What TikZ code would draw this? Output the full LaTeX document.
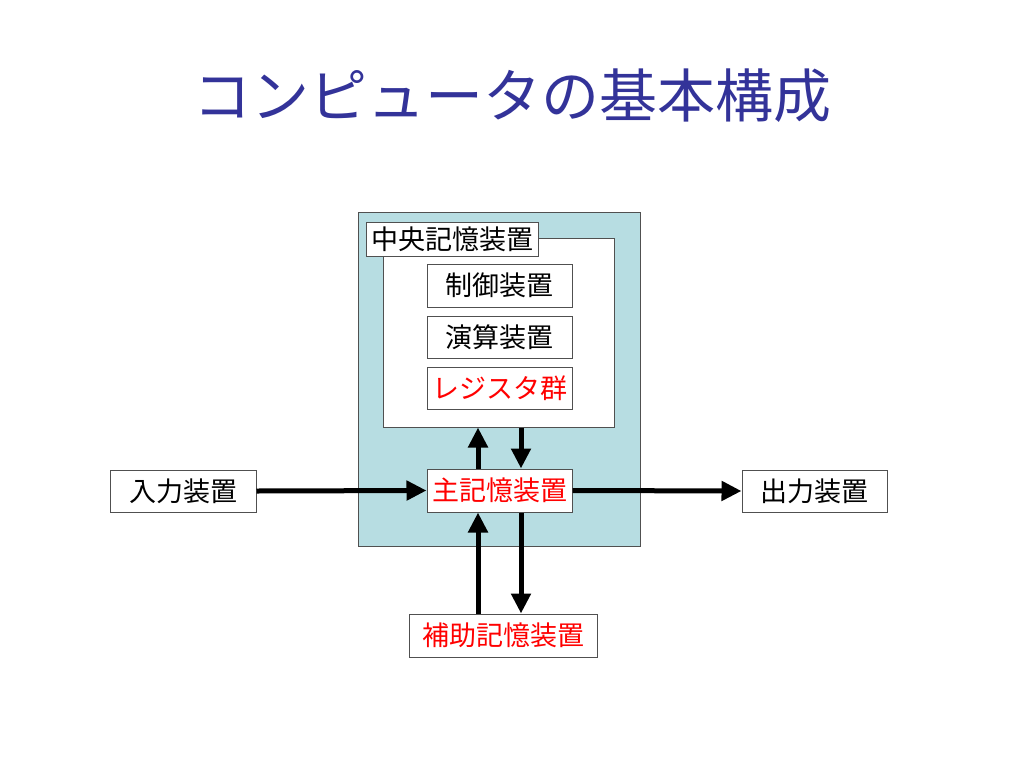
\documentclass[tikz,border=0pt]{standalone}
\usepackage{fontspec}
\newfontfamily\jp{Noto Sans CJK JP}
\usetikzlibrary{arrows.meta}
\definecolor{titleblue}{RGB}{51,51,153}
\definecolor{cpufill}{RGB}{183,221,226}
\definecolor{boxline}{RGB}{80,80,80}
\begin{document}
\begin{tikzpicture}[x=1pt,y=-1pt,
  lbl/.style={draw=boxline,line width=1pt,fill=white,inner sep=0pt,font=\jp\fontsize{27}{30}\selectfont},
  flow/.style={line width=5pt,-{Triangle[length=20pt,width=19pt]}},
  redtext/.style={text=red}]
\useasboundingbox (0,0) rectangle (1024,768);
\node[font=\jp\fontsize{58}{64}\selectfont,text=titleblue] (title) at (512,96) {コンピュータの基本構成};
% CPU area
\node[draw=boxline,line width=1pt,fill=cpufill,minimum width=282pt,minimum height=334pt,inner sep=0pt] (cpu) at (499,379) {};
\node[draw=boxline,line width=1pt,fill=white,minimum width=231pt,minimum height=189pt,inner sep=0pt] (core) at (498.5,332.5) {};
\node[lbl,minimum width=172pt,minimum height=34pt] (central) at (452,239) {中央記憶装置};
\node[lbl,minimum width=145pt,minimum height=43pt] (ctrl) at (499.5,285.5) {制御装置};
\node[lbl,minimum width=145pt,minimum height=42pt] (alu) at (499.5,337) {演算装置};
\node[lbl,redtext,minimum width=145pt,minimum height=42pt] (reg) at (499.5,388) {レジスタ群};
\node[lbl,redtext,minimum width=145pt,minimum height=43pt] (mem) at (499.5,490.5) {主記憶装置};
\node[lbl,minimum width=146pt,minimum height=42pt] (in) at (183,491) {入力装置};
\node[lbl,minimum width=145pt,minimum height=42pt] (out) at (814.5,491) {出力装置};
\node[lbl,redtext,minimum width=188pt,minimum height=43pt] (aux) at (503,635.5) {補助記憶装置};
% connectors
\draw[flow] (in.east) -- (mem.west);
\draw[flow] (mem.east) -- (out.west);
\draw[flow] (mem.north -| 478,0) -- (core.south -| 478,0);
\draw[flow] (core.south -| 521,0) -- (mem.north -| 521,0);
\draw[flow] (aux.north -| 478,0) -- (mem.south -| 478,0);
\draw[flow] (mem.south -| 521,0) -- (aux.north -| 521,0);
\end{tikzpicture}
\end{document}
